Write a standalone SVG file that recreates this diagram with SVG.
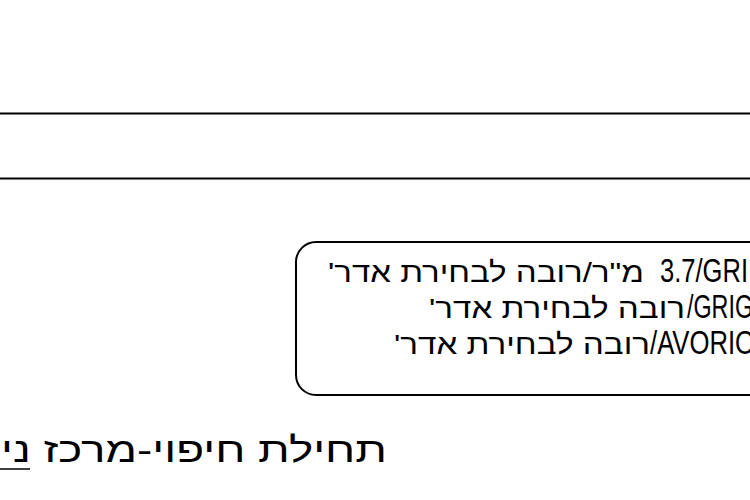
<svg xmlns="http://www.w3.org/2000/svg" width="750" height="500" viewBox="0 0 750 500">
  <style>
    .ln { stroke: #000; stroke-width: 2; fill: none; }
    .he { font-family: "Liberation Sans", "DejaVu Sans", sans-serif; font-size: 28px; fill: #000; direction: rtl; text-anchor: middle; }
    .la { font-family: "Liberation Sans", "DejaVu Sans", sans-serif; font-size: 33px; fill: #000; text-anchor: start; }
    .big { font-size: 35px; }
  </style>
  <rect x="0" y="0" width="750" height="500" fill="#fff"/>
  <g id="rails">
    <line class="ln" x1="0" y1="113.5" x2="750" y2="113.5"/>
    <line class="ln" x1="0" y1="178.5" x2="750" y2="178.5"/>
  </g>
  <g id="note-box">
    <rect class="ln" x="296" y="242" width="500" height="153" rx="20" ry="20"/>
    <text class="he" x="486" y="282" textLength="316" lengthAdjust="spacingAndGlyphs">מ"ר/רובה לבחירת אדר'</text>
    <text class="la" x="660" y="282" textLength="88" lengthAdjust="spacingAndGlyphs">3.7/GRI</text>
    <text class="he" x="557" y="318" textLength="256" lengthAdjust="spacingAndGlyphs">רובה לבחירת אדר'</text>
    <text class="la" x="687" y="318" textLength="66" lengthAdjust="spacingAndGlyphs">/GRIG</text>
    <text class="he" x="522" y="354" textLength="256" lengthAdjust="spacingAndGlyphs">רובה לבחירת אדר'</text>
    <text class="la" x="650" y="354" textLength="105" lengthAdjust="spacingAndGlyphs">/AVORIO</text>
  </g>
  <g id="label-bottom">
    <text class="he big" x="194" y="462" textLength="386" lengthAdjust="spacingAndGlyphs">תחילת חיפוי-מרכז ני</text>
    <line x1="0" y1="469" x2="30" y2="469" stroke="#000" stroke-width="1.5"/>
  </g>
</svg>
